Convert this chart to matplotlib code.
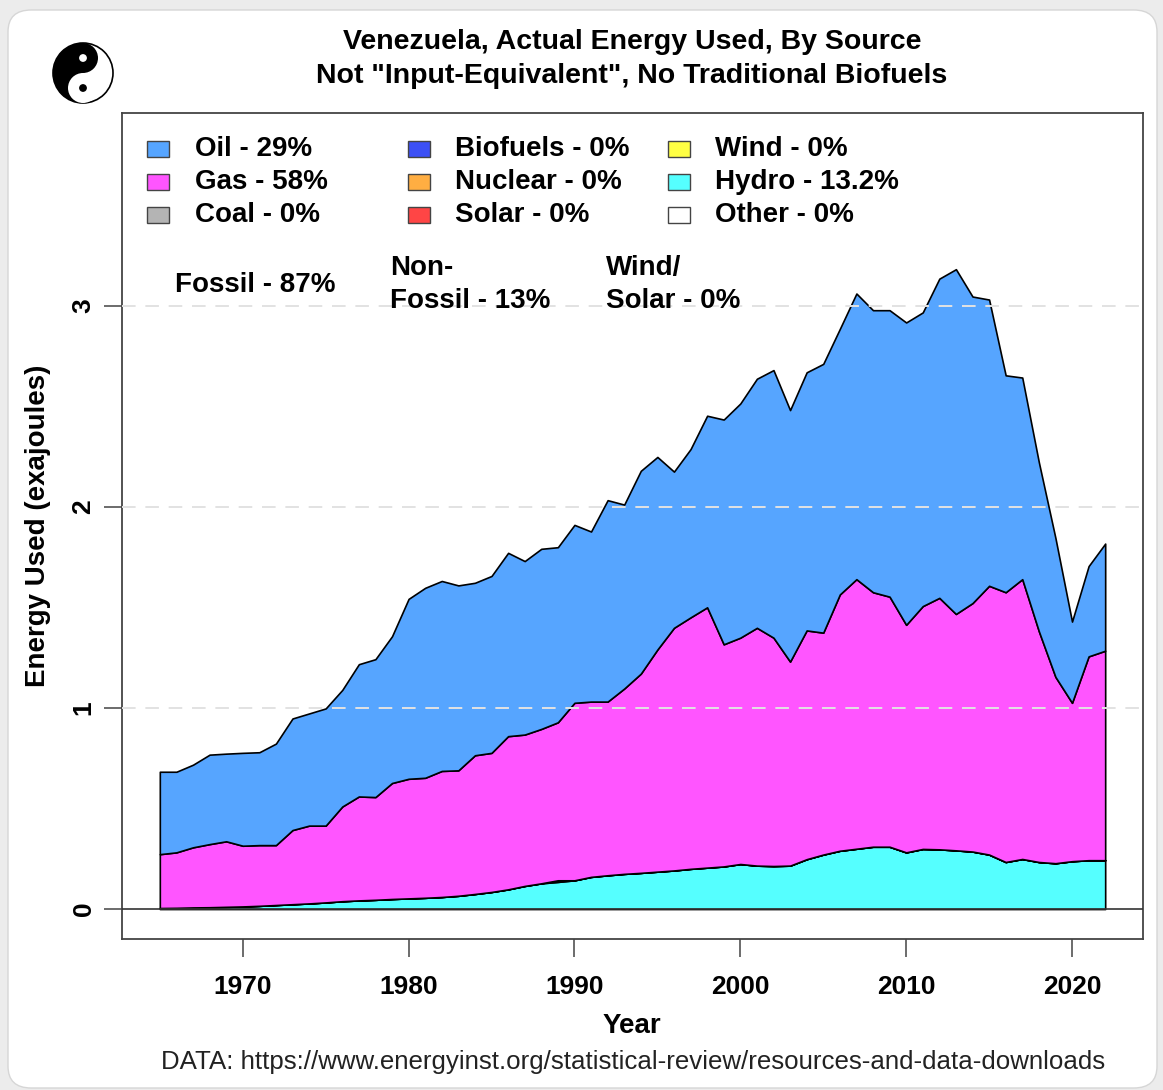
import numpy as np
import matplotlib
matplotlib.use("Agg")
import matplotlib.pyplot as plt
from matplotlib.patches import Rectangle, FancyBboxPatch, Circle, Wedge

plt.rcParams["font.family"] = ["Liberation Sans", "DejaVu Sans"]

W, H = 1163, 1090

years = np.arange(1965, 2023)

# exajoules per source
oil = [0.410, 0.401, 0.411, 0.445, 0.436, 0.462, 0.462, 0.505, 0.555, 0.558,
       0.583, 0.580, 0.658, 0.686, 0.730, 0.895, 0.945, 0.945, 0.920, 0.858,
       0.880, 0.912, 0.863, 0.896, 0.871, 0.885, 0.846, 1.002, 0.915, 1.009,
       0.958, 0.777, 0.837, 0.953, 1.118, 1.165, 1.239, 1.331, 1.251, 1.284,
       1.337, 1.321, 1.421, 1.403, 1.425, 1.504, 1.461, 1.588, 1.715, 1.525,
       1.424, 1.079, 1.003, 0.841, 0.691, 0.404, 0.449, 0.533]
gas = [0.268, 0.276, 0.299, 0.314, 0.326, 0.302, 0.302, 0.298, 0.369, 0.387,
       0.382, 0.471, 0.517, 0.511, 0.577, 0.595, 0.597, 0.627, 0.624, 0.690,
       0.692, 0.762, 0.753, 0.768, 0.786, 0.883, 0.872, 0.864, 0.922, 0.991,
       1.105, 1.207, 1.251, 1.295, 1.105, 1.126, 1.183, 1.136, 1.015, 1.138,
       1.104, 1.275, 1.341, 1.266, 1.244, 1.132, 1.208, 1.251, 1.176, 1.236,
       1.337, 1.342, 1.392, 1.148, 0.927, 0.788, 1.014, 1.042]
coal = [0.0] * 24 + [0.008] + [0.0] * 33
hydro = [0.005, 0.006, 0.008, 0.009, 0.011, 0.013, 0.016, 0.020, 0.024, 0.028,
         0.033, 0.039, 0.043, 0.046, 0.050, 0.053, 0.056, 0.060, 0.066, 0.075,
         0.085, 0.098, 0.115, 0.128, 0.135, 0.143, 0.160, 0.168, 0.175, 0.180,
         0.186, 0.192, 0.200, 0.206, 0.212, 0.224, 0.216, 0.214, 0.216, 0.248,
         0.271, 0.290, 0.300, 0.310, 0.310, 0.282, 0.299, 0.297, 0.292, 0.286,
         0.271, 0.234, 0.249, 0.234, 0.228, 0.238, 0.243, 0.243]

legend_labels = ["Oil - 29%", "Gas - 58%", "Coal - 0%",
                 "Biofuels - 0%", "Nuclear - 0%", "Solar - 0%",
                 "Wind - 0%", "Hydro - 13.2%", "Other - 0%"]
legend_colors = ["#56a5ff", "#ff55ff", "#b4b4b4",
                 "#3c50f5", "#ffae42", "#ff4545",
                 "#ffff44", "#55ffff", "#ffffff"]


def fx(x):
    return x / W


def fy(y):
    return 1 - y / H


fig = plt.figure(figsize=(W / 100, H / 100), dpi=100, facecolor="#ececec")
card = FancyBboxPatch((fx(8), fy(1088)), fx(1149), (1078) / H,
                      boxstyle="round,pad=0,rounding_size=0.02",
                      transform=fig.transFigure, facecolor="white",
                      edgecolor="#d6d6d6", lw=1.0, zorder=-10)
fig.patches.append(card)

ax = fig.add_axes([fx(122), fy(939), fx(1143 - 122), (939 - 113) / H])
ax.set_xlim(1962.72, 2024.28)
ax.set_ylim(-0.149, 3.96)

ax.stackplot(years, hydro, coal, gas, oil,
             colors=["#55ffff", "#b4b4b4", "#ff55ff", "#56a5ff"],
             edgecolor="black", linewidth=1.2, zorder=2)
for g in (1, 2, 3):
    ax.axhline(g, color="#e2e2e2", ls=(0, (7, 5)), lw=1.4, zorder=3)
ax.axhline(0, color="#333333", lw=1.2, zorder=4)

for s in ax.spines.values():
    s.set_color("#444444")
    s.set_linewidth(1.3)
ax.set_xticks([1970, 1980, 1990, 2000, 2010, 2020])
ax.set_yticks([0, 1, 2, 3])
ax.tick_params(axis="both", length=13, width=1.1, color="#444444",
               labelsize=19, pad=13)
ax.tick_params(axis="y", pad=6)
for lb in ax.get_xticklabels() + ax.get_yticklabels():
    lb.set_fontweight("bold")
for lb in ax.get_yticklabels():
    lb.set_rotation(90)
    lb.set_va("center")

fig.text(fx(632), fy(1026), "Year", ha="center", va="center",
         fontsize=20, fontweight="bold")
fig.text(fx(38), fy(526), "Energy Used (exajoules)", ha="center", va="center",
         rotation=90, fontsize=20, fontweight="bold")
fig.text(fx(632), fy(42), "Venezuela, Actual Energy Used, By Source",
         ha="center", va="center", fontsize=20.5, fontweight="bold")
fig.text(fx(632), fy(76), 'Not "Input-Equivalent", No Traditional Biofuels',
         ha="center", va="center", fontsize=20.5, fontweight="bold")
fig.text(fx(633), fy(1062),
         "DATA: https://www.energyinst.org/statistical-review/resources-and-data-downloads",
         ha="center", va="center", fontsize=18.6, color="#222222")

# legend, three columns
col_sq = [147, 408, 668]
col_tx = [195, 455, 715]
row_y = [149, 182, 215]
for i, (lab, c) in enumerate(zip(legend_labels, legend_colors)):
    col, row = divmod(i, 3)
    fig.patches.append(Rectangle((fx(col_sq[col]), fy(row_y[row] + 8)),
                                 fx(22), 16 / H, transform=fig.transFigure,
                                 facecolor=c, edgecolor="#444444", lw=1.0))
    fig.text(fx(col_tx[col]), fy(row_y[row]), lab, ha="left", va="center",
             fontsize=20, fontweight="bold")

fig.text(fx(175), fy(285), "Fossil - 87%", ha="left", va="center",
         fontsize=20, fontweight="bold")
fig.text(fx(390), fy(268), "Non-", ha="left", va="center",
         fontsize=20, fontweight="bold")
fig.text(fx(390), fy(301), "Fossil - 13%", ha="left", va="center",
         fontsize=20, fontweight="bold")
fig.text(fx(606), fy(268), "Wind/", ha="left", va="center",
         fontsize=20, fontweight="bold")
fig.text(fx(606), fy(301), "Solar - 0%", ha="left", va="center",
         fontsize=20, fontweight="bold")

# yin-yang logo, top left
lg = fig.add_axes([fx(50), fy(106), fx(66), 66 / H])
lg.set_xlim(-1.1, 1.1)
lg.set_ylim(-1.1, 1.1)
lg.set_aspect("equal")
lg.axis("off")
lg.add_patch(Circle((0, 0), 1, facecolor="white", edgecolor="black", lw=1.2))
lg.add_patch(Wedge((0, 0), 1, 90, 270, facecolor="black"))
lg.add_patch(Circle((0, 0.5), 0.5, facecolor="black"))
lg.add_patch(Circle((0, -0.5), 0.5, facecolor="white"))
lg.add_patch(Circle((0, 0.5), 0.13, facecolor="white"))
lg.add_patch(Circle((0, -0.5), 0.13, facecolor="black"))

fig.savefig("out.png", dpi=100, facecolor=fig.get_facecolor())
